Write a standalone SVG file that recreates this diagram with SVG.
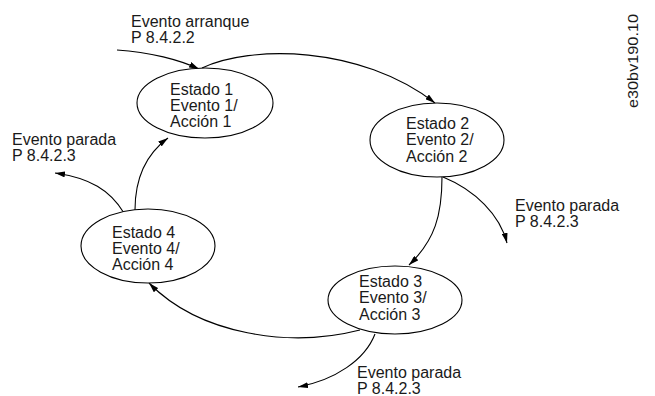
<svg xmlns="http://www.w3.org/2000/svg" width="655" height="396" viewBox="0 0 655 396">
<defs>
<marker id="ah" viewBox="0 0 10 6" refX="10" refY="3" markerWidth="10" markerHeight="6" markerUnits="userSpaceOnUse" orient="auto">
<path d="M0,0 L10,3 L0,6 Z" fill="#000"/>
</marker>
</defs>
<style>
text{font-family:"Liberation Sans",Arial,sans-serif;font-size:16px;fill:#1a1a1a}
.st{fill:#fff;stroke:#000;stroke-width:1.1}
.cn{fill:none;stroke:#000;stroke-width:1.1;marker-end:url(#ah)}
.wm{font-size:15px}
</style>
<rect width="655" height="396" fill="#fff"/>
<g id="connectors">
<path class="cn" d="M117,50 C150,52 180,60 199,69"/>
<path class="cn" d="M202,68 C250,45 360,45 435,103"/>
<path class="cn" d="M442,177 C442,215 435,240 409,265"/>
<path class="cn" d="M443,177 C475,190 500,215 507,243"/>
<path class="cn" d="M360,330 C290,348 200,335 149,283"/>
<path class="cn" d="M375,334 C365,360 335,380 298,387"/>
<path class="cn" d="M135,210 C135,180 145,155 168,138"/>
<path class="cn" d="M124,213 C110,190 90,178 55,173"/>
</g>
<g id="estado1">
<ellipse class="st" cx="205" cy="103" rx="68" ry="35"/>
<text x="170" y="95">Estado 1</text>
<text x="170" y="111">Evento 1/</text>
<text x="170" y="127">Acción 1</text>
</g>
<g id="estado2">
<ellipse class="st" cx="437" cy="140" rx="67" ry="37"/>
<text x="406" y="129">Estado 2</text>
<text x="406" y="145">Evento 2/</text>
<text x="406" y="162">Acción 2</text>
</g>
<g id="estado3">
<ellipse class="st" cx="395" cy="300" rx="67" ry="34"/>
<text x="359" y="287">Estado 3</text>
<text x="359" y="303">Evento 3/</text>
<text x="359" y="320">Acción 3</text>
</g>
<g id="estado4">
<ellipse class="st" cx="148" cy="246" rx="67" ry="37"/>
<text x="112" y="238">Estado 4</text>
<text x="112" y="254">Evento 4/</text>
<text x="112" y="270">Acción 4</text>
</g>
<g id="labels">
<text x="131" y="27">Evento arranque</text>
<text x="131" y="43">P 8.4.2.2</text>
<text x="12" y="145">Evento parada</text>
<text x="12" y="161">P 8.4.2.3</text>
<text x="515" y="211">Evento parada</text>
<text x="515" y="227">P 8.4.2.3</text>
<text x="357" y="378">Evento parada</text>
<text x="357" y="394">P 8.4.2.3</text>
<text class="wm" transform="translate(638,108) rotate(-90)" textLength="94" lengthAdjust="spacingAndGlyphs">e30bv190.10</text>
</g>
</svg>
